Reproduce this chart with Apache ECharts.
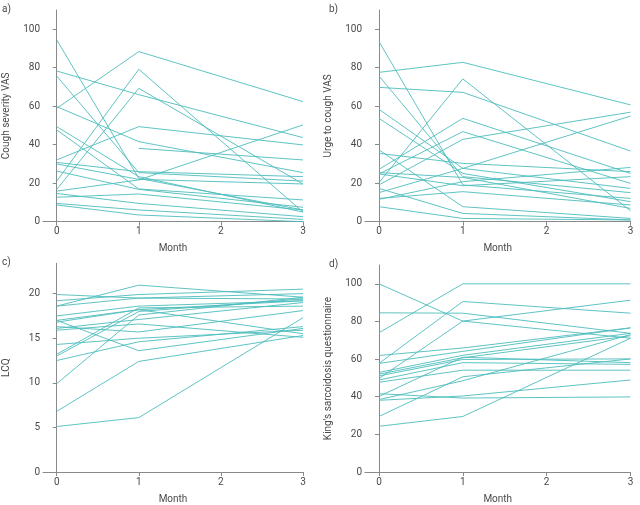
<!DOCTYPE html>
<html><head><meta charset="utf-8">
<script src="https://cdn.jsdelivr.net/npm/echarts@6/dist/echarts.min.js"></script>
<style>html,body{margin:0;padding:0;background:#fff}#c{width:640px;height:505px}</style>
</head><body><div id="c"></div>
<script>
// Months at which each patient was measured
const months = [0, 1, 3];
const monthTicks = [0, 1, 2, 3];

// a) Cough severity VAS, one row per patient: [month0, month1, month3]
const coughSeverity = [
  [94.5, 22.5, 6.1], [78.3, 66.0, 43.7], [75.7, 25.5, 21.1], [58.9, 88.4, 62.4],
  [59.8, 41.6, 25.5], [49.4, 23.4, 5.0], [47.7, 17.0, 11.3], [32.1, 49.4, 39.9],
  [30.8, 26.0, 23.4], [30.0, 22.0, 19.6], [26.3, 16.8, 7.5], [21.1, 79.2, 5.0],
  [16.8, 69.3, 19.6], [15.9, 21.7, 50.3], [14.7, 9.5, 2.6], [12.7, 14.4, 6.1],
  [9.5, 6.1, 1.2], [8.7, 3.5, 0.0], [null, 38.1, 32.1]
];
// b) Urge to cough VAS
const urgeToCough = [
  [93.6, 19.1, 12.1], [77.6, 82.8, 60.7], [75.7, 23.4, 15.1], [69.8, 67.2, 36.7],
  [58.4, 27.7, 17.3], [53.7, 25.1, 10.4], [37.3, 7.8, 1.7], [35.5, 30.3, 26.0],
  [27.2, 53.7, 25.1], [24.8, 46.8, 19.9], [20.3, 74.2, 5.7], [19.1, 42.8, 56.9],
  [15.1, 27.7, 54.9], [12.1, 15.6, 8.7], [11.6, 20.8, 28.2], [7.8, 1.7, 0.9],
  [24.8, 18.7, 23.4], [17.3, 4.3, 0.9], [25.5, 23.0, 6.9]
];
// c) LCQ
const lcq = [
  [5.1, 6.1, 17.3], [6.8, 12.4, 15.3], [9.9, 17.6, 19.6], [12.5, 14.6, 16.3],
  [13.0, 18.0, 19.4], [13.2, 18.4, 18.6], [14.3, 15.0, 15.9], [15.9, 16.6, 15.1],
  [16.1, 17.1, 19.0], [16.3, 15.7, 18.1], [16.8, 18.2, 15.5], [17.0, 13.6, 16.1],
  [17.5, 18.6, 19.2], [18.6, 20.95, 19.6], [18.6, 19.5, 20.0], [19.2, 19.9, 20.5],
  [19.9, 19.5, 19.4], [17.0, 18.2, 19.2]
];
// d) King's sarcoidosis questionnaire
const kingsSarcoidosis = [
  [100, 80.2, 71.1], [74.0, 100, 100], [84.6, 84.4, 73.7], [57.7, 90.6, 84.4],
  [49.7, 80.2, 91.3], [61.9, 65.9, 76.6], [57.7, 64.1, 76.6], [52.9, 62.0, 73.7],
  [52.0, 60.7, 72.4], [51.1, 59.8, 60.1], [48.9, 58.1, 57.2], [47.7, 54.1, 54.1],
  [41.6, 39.3, 39.9], [40.2, 61.0, 58.1], [38.5, 48.5, 73.0], [38.1, 40.4, 48.9],
  [29.5, 50.6, 60.1], [24.3, 29.5, 71.1]
];
const vasTicks = [0, 20, 40, 60, 80, 100];
const lcqTicks = [0, 5, 10, 15, 20];

const panels = [
  {label: 'a)', name: 'Cough severity VAS', data: coughSeverity, max: 110, ticks: vasTicks,
   grid: {left: 38, top: 10, width: 265, height: 211.7}},
  {label: 'b)', name: 'Urge to cough VAS', data: urgeToCough, max: 110, ticks: vasTicks,
   grid: {left: 365, top: 10, width: 265.5, height: 211.7}},
  {label: 'c)', name: 'LCQ', data: lcq, max: 23.4, ticks: lcqTicks,
   grid: {left: 38, top: 263.3, width: 265, height: 213.4}},
  {label: 'd)', name: "King's sarcoidosis questionnaire", data: kingsSarcoidosis, max: 110, ticks: vasTicks,
   grid: {left: 365, top: 265, width: 265.5, height: 211.7}}
];

const FONT = 'Roboto';
const TXT = '#4a4a4a';
const AX = '#8a8a8a';
const TEAL = '#4dbcbc';

const grids = [], xAxes = [], yAxes = [], series = [], graphics = [];
panels.forEach((p, i) => {
  grids.push(Object.assign({containLabel: false}, p.grid));
  xAxes.push({
    type: 'value', gridIndex: i, min: -0.167, max: 3,
    name: 'Month', nameLocation: 'middle', nameGap: 22,
    nameTextStyle: {fontFamily: FONT, fontSize: 10, color: TXT},
    axisLine: {show: true, lineStyle: {color: AX, width: 1}},
    axisTick: {show: true, length: 4, lineStyle: {color: AX}, customValues: monthTicks},
    axisLabel: {show: true, fontFamily: FONT, fontSize: 10, color: TXT, margin: 5, customValues: monthTicks},
    splitLine: {show: false}
  });
  yAxes.push({
    type: 'value', gridIndex: i, min: 0, max: p.max,
    name: p.name, nameLocation: 'middle', nameGap: 32,
    nameTextStyle: {fontFamily: FONT, fontSize: 10, color: TXT},
    axisLine: {show: true, lineStyle: {color: AX, width: 1}},
    axisTick: {show: true, length: 4, lineStyle: {color: AX}, customValues: p.ticks},
    axisLabel: {show: true, fontFamily: FONT, fontSize: 10, color: TXT, margin: 3, customValues: p.ticks},
    splitLine: {show: false}
  });
  p.data.forEach(row => {
    series.push({
      type: 'line', xAxisIndex: i, yAxisIndex: i, symbol: 'none', silent: true,
      connectNulls: false, animation: false,
      lineStyle: {color: TEAL, width: 0.9},
      data: months.map((m, k) => row[k] == null ? [m, null] : [m, row[k]]).filter(d => d[1] != null)
    });
  });
  graphics.push({
    type: 'text', left: p.grid.left - 36, top: p.grid.top - 6,
    style: {text: p.label, font: '10px ' + FONT, fill: TXT}
  });
});

const chart = echarts.init(document.getElementById('c'), null, {renderer: 'canvas'});
chart.setOption({
  animation: false,
  grid: grids, xAxis: xAxes, yAxis: yAxes, series: series, graphic: graphics
});
</script></body></html>
